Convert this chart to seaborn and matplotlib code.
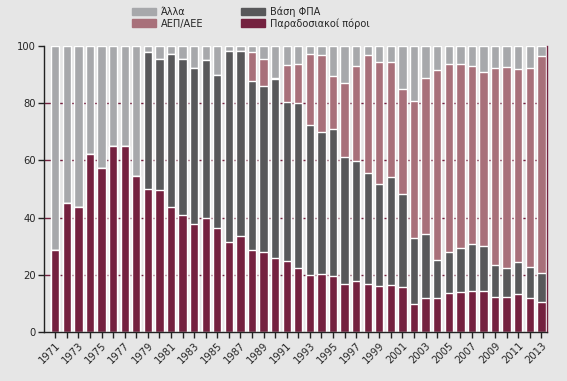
import matplotlib
matplotlib.use("Agg")
import matplotlib.pyplot as plt
import seaborn as sns
import pandas as pd
import numpy as np
from matplotlib.patches import Patch

years = list(range(1971, 2014))
trad = [28.5, 45.2, 43.8, 62.3, 57.4, 65.1, 65.1, 54.7, 50.1, 49.8,
        43.8, 41.0, 37.6, 39.7, 36.5, 31.3, 33.4, 28.5, 27.8, 26.0,
        24.7, 22.2, 19.8, 20.1, 19.4, 16.6, 17.7, 16.6, 15.9, 16.3,
        15.6, 9.7, 11.7, 11.7, 13.5, 13.8, 14.2, 14.2, 12.1, 12.1,
        13.1, 11.7, 10.3]
vat = [0, 0, 0, 0, 0, 0, 0, 0, 47.8, 45.7,
       53.4, 54.5, 54.7, 55.4, 53.4, 67.0, 64.9, 59.3, 58.2, 62.5,
       55.8, 57.9, 52.6, 49.9, 51.6, 44.7, 42.2, 39.1, 36.0, 38.0,
       32.8, 23.3, 22.4, 13.6, 14.6, 15.7, 16.4, 15.7, 11.2, 10.1,
       11.2, 10.9, 10.2]
gni = [0, 0, 0, 0, 0, 0, 0, 0, 0, 0,
       0, 0, 0, 0, 0, 0, 0, 10.1, 9.5, 0.3,
       12.9, 13.6, 24.8, 26.9, 18.5, 25.8, 33.1, 41.2, 42.5, 40.1,
       36.6, 47.8, 54.7, 66.3, 65.6, 64.2, 62.4, 61.0, 69.0, 70.5,
       67.7, 69.7, 76.0]
other = [71.5, 54.8, 56.2, 37.7, 42.6, 34.9, 34.9, 45.3, 2.1, 4.5,
         2.8, 4.5, 7.7, 4.9, 10.1, 1.7, 1.7, 2.1, 4.5, 11.2,
         6.6, 6.3, 2.8, 3.1, 10.5, 12.9, 7.0, 3.1, 5.6, 5.6,
         15.0, 19.2, 11.2, 8.4, 6.3, 6.3, 7.0, 9.1, 7.7, 7.3,
         8.0, 7.7, 3.5]

labels = ["Παραδοσιακοί πόροι", "Βάση ΦΠΑ", "ΑΕΠ/ΑΕΕ", "Άλλα"]
colors = {"Παραδοσιακοί πόροι": "#74213f", "Βάση ΦΠΑ": "#58585a",
          "ΑΕΠ/ΑΕΕ": "#a8707a", "Άλλα": "#a7a8ab"}

df = pd.DataFrame({"year": [str(y) for y in years], "Παραδοσιακοί πόροι": trad,
                   "Βάση ΦΠΑ": vat, "ΑΕΠ/ΑΕΕ": gni, "Άλλα": other})
cum = df[labels].cumsum(axis=1)

sns.set_theme(style="white")
plt.rcParams["font.family"] = ["DejaVu Sans"]
plt.rcParams["font.stretch"] = "condensed"

bg = "#e6e6e6"
fig = plt.figure(figsize=(5.67, 3.81), dpi=100, facecolor=bg)
ax = fig.add_axes([0.0776, 0.129, 0.8874, 0.750])
ax.set_facecolor(bg)

for yv in [20, 40, 60, 80]:
    ax.axhline(yv, color="#74213f", lw=1.0, zorder=0)

order = [str(y) for y in years]
for lab in reversed(labels):
    d = pd.DataFrame({"year": df["year"], "v": cum[lab]})
    sns.barplot(data=d, x="year", y="v", order=order, color=colors[lab],
                width=0.72, saturation=1, ax=ax, zorder=2)

ax.set_xlim(-0.97, 42.5)
ax.set_ylim(0, 100)
ax.set_xlabel("")
ax.set_ylabel("")
ax.set_yticks([0, 20, 40, 60, 80, 100])
ax.set_xticks(range(len(years)))
ax.set_xticklabels([str(y) if i % 2 == 0 else "" for i, y in enumerate(years)],
                   rotation=45, ha="right", rotation_mode="anchor", fontsize=8)
ax.tick_params(axis="y", labelsize=8, length=4, width=1, color="#222222", pad=2, left=True)
ax.tick_params(axis="x", length=4, width=1, color="#222222", pad=2, bottom=True)
ax.spines["top"].set_visible(False)
ax.spines["left"].set_color("#222222")
ax.spines["bottom"].set_color("#222222")
ax.spines["right"].set_color("#74213f")
for s in ["left", "bottom", "right"]:
    ax.spines[s].set_linewidth(1.0)
    ax.spines[s].set_zorder(5)

handles = [Patch(color=colors["Άλλα"], label="Άλλα"),
           Patch(color=colors["ΑΕΠ/ΑΕΕ"], label="ΑΕΠ/ΑΕΕ"),
           Patch(color=colors["Βάση ΦΠΑ"], label="Βάση ΦΠΑ"),
           Patch(color=colors["Παραδοσιακοί πόροι"], label="Παραδοσιακοί πόροι")]
fig.legend(handles=handles, ncol=2, loc="upper left", bbox_to_anchor=(0.218, 1.005),
           frameon=False, fontsize=7.8, handlelength=2.2, handleheight=0.7,
           columnspacing=3.5, labelspacing=0.12, handletextpad=0.45, borderpad=0.3)

fig.savefig("out.png", dpi=100, facecolor=bg)
